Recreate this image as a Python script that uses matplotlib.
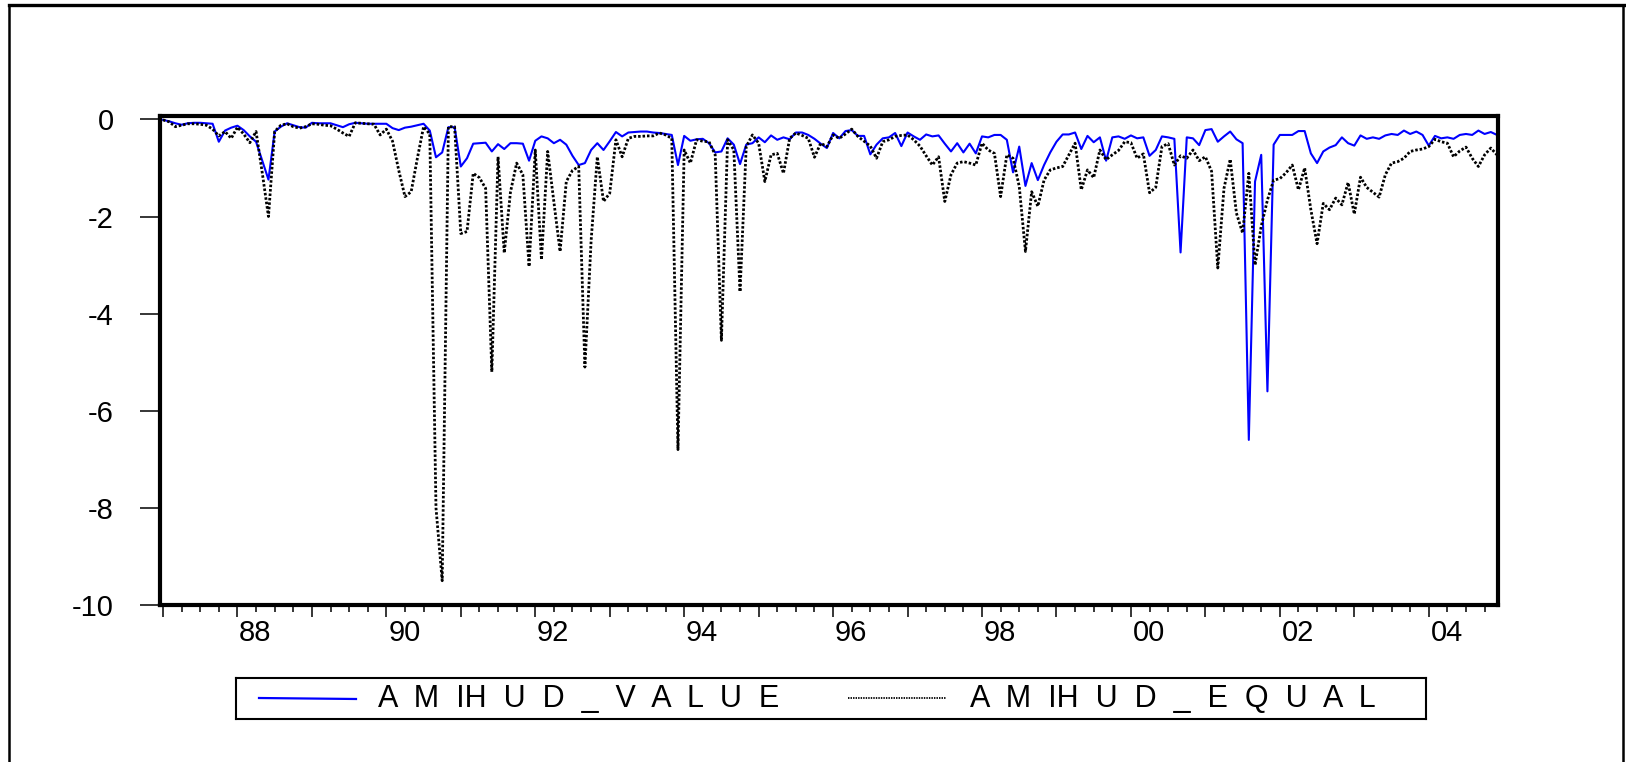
import numpy as np
import pandas as pd
import matplotlib
matplotlib.use("Agg")
import matplotlib.pyplot as plt
import matplotlib.transforms as mtransforms
from matplotlib.lines import Line2D
from matplotlib.ticker import FixedLocator, MultipleLocator

plt.rcParams['font.family'] = ['Liberation Sans', 'DejaVu Sans']

# monthly observations 1987:01 - 2004:12
dates = pd.date_range("1987-01-01", "2004-12-01", freq="MS")
t = dates.year + (dates.month - 1) / 12.0

amihud_value = [
    -0.01, -0.04, -0.08, -0.11, -0.08, -0.07, -0.07, -0.08, -0.09, -0.46, -0.23, -0.17,  # 1987
    -0.13, -0.22, -0.35, -0.46, -0.85, -1.24, -0.25, -0.15, -0.08, -0.12, -0.16, -0.17,  # 1988
    -0.07, -0.08, -0.08, -0.08, -0.12, -0.16, -0.10, -0.07, -0.08, -0.09, -0.09, -0.09,  # 1989
    -0.09, -0.18, -0.22, -0.17, -0.15, -0.12, -0.09, -0.23, -0.78, -0.68, -0.16, -0.16,  # 1990
    -0.97, -0.80, -0.50, -0.49, -0.48, -0.66, -0.51, -0.61, -0.49, -0.49, -0.50, -0.85,  # 1991
    -0.44, -0.35, -0.39, -0.49, -0.42, -0.52, -0.75, -0.94, -0.90, -0.63, -0.49, -0.63,  # 1992
    -0.45, -0.26, -0.35, -0.27, -0.26, -0.25, -0.25, -0.27, -0.28, -0.30, -0.32, -0.94,  # 1993
    -0.34, -0.44, -0.41, -0.40, -0.49, -0.68, -0.66, -0.39, -0.52, -0.92, -0.52, -0.49,  # 1994
    -0.37, -0.47, -0.33, -0.42, -0.37, -0.41, -0.27, -0.27, -0.32, -0.40, -0.50, -0.59,  # 1995
    -0.28, -0.39, -0.24, -0.22, -0.34, -0.34, -0.72, -0.52, -0.39, -0.37, -0.28, -0.55,  # 1996
    -0.27, -0.35, -0.42, -0.31, -0.35, -0.33, -0.50, -0.66, -0.49, -0.68, -0.50, -0.70,  # 1997
    -0.35, -0.37, -0.32, -0.32, -0.42, -1.09, -0.56, -1.37, -0.90, -1.25, -0.94, -0.68,  # 1998
    -0.46, -0.31, -0.31, -0.27, -0.61, -0.34, -0.47, -0.37, -0.85, -0.37, -0.35, -0.40,  # 1999
    -0.33, -0.39, -0.37, -0.75, -0.63, -0.35, -0.37, -0.40, -2.74, -0.37, -0.39, -0.53,  # 2000
    -0.22, -0.20, -0.46, -0.35, -0.25, -0.41, -0.49, -6.60, -1.28, -0.73, -5.60, -0.52,  # 2001
    -0.32, -0.32, -0.32, -0.24, -0.24, -0.70, -0.90, -0.66, -0.58, -0.53, -0.37, -0.49,  # 2002
    -0.54, -0.33, -0.40, -0.37, -0.40, -0.33, -0.30, -0.32, -0.23, -0.30, -0.25, -0.32,  # 2003
    -0.54, -0.34, -0.39, -0.37, -0.40, -0.32, -0.30, -0.32, -0.23, -0.30, -0.26, -0.32,  # 2004
]

amihud_equal = [
    -0.01, -0.05, -0.15, -0.12, -0.09, -0.09, -0.10, -0.12, -0.20, -0.34, -0.25, -0.39,  # 1987
    -0.16, -0.30, -0.48, -0.25, -1.10, -2.00, -0.25, -0.12, -0.09, -0.15, -0.18, -0.15,  # 1988
    -0.09, -0.10, -0.12, -0.13, -0.20, -0.28, -0.35, -0.07, -0.08, -0.09, -0.10, -0.32,  # 1989
    -0.20, -0.45, -1.05, -1.59, -1.49, -0.80, -0.15, -0.30, -8.00, -9.50, -0.15, -0.15,  # 1990
    -2.35, -2.31, -1.11, -1.20, -1.42, -5.20, -0.77, -2.75, -1.50, -0.90, -1.14, -3.03,  # 1991
    -0.63, -2.89, -0.66, -1.70, -2.72, -1.28, -1.05, -0.97, -5.10, -2.50, -0.77, -1.69,  # 1992
    -1.52, -0.42, -0.77, -0.39, -0.35, -0.35, -0.34, -0.34, -0.28, -0.32, -0.39, -6.80,  # 1993
    -0.63, -0.90, -0.42, -0.45, -0.46, -0.73, -4.55, -0.42, -0.63, -3.55, -0.56, -0.32,  # 1994
    -0.49, -1.28, -0.73, -0.70, -1.11, -0.39, -0.28, -0.33, -0.39, -0.78, -0.49, -0.56,  # 1995
    -0.32, -0.39, -0.30, -0.20, -0.35, -0.45, -0.55, -0.80, -0.46, -0.42, -0.35, -0.33,  # 1996
    -0.32, -0.42, -0.55, -0.75, -0.94, -0.77, -1.69, -1.14, -0.90, -0.87, -0.90, -0.94,  # 1997
    -0.49, -0.63, -0.70, -1.59, -0.73, -0.80, -1.38, -2.72, -1.49, -1.79, -1.25, -1.04,  # 1998
    -1.00, -0.97, -0.73, -0.49, -1.45, -1.04, -1.20, -0.63, -0.83, -0.73, -0.64, -0.46,  # 1999
    -0.48, -0.80, -0.71, -1.51, -1.40, -0.56, -0.50, -0.94, -0.75, -0.80, -0.63, -0.85,  # 2000
    -0.77, -1.07, -3.06, -1.42, -0.82, -1.93, -2.34, -1.11, -3.00, -2.20, -1.66, -1.25,  # 2001
    -1.22, -1.10, -0.94, -1.45, -1.00, -1.86, -2.56, -1.73, -1.86, -1.62, -1.76, -1.30,  # 2002
    -1.95, -1.19, -1.40, -1.50, -1.60, -1.14, -0.90, -0.87, -0.80, -0.66, -0.63, -0.61,  # 2003
    -0.56, -0.41, -0.46, -0.49, -0.77, -0.65, -0.57, -0.80, -0.97, -0.73, -0.59, -0.73,  # 2004
]

years = list(range(1987, 2005))
year_labels = ["" if y % 2 else str(y)[2:] for y in years]
y_ticks = [0, -2, -4, -6, -8, -10]
y_labels = ["0", "-2", "-4", "-6", "-8", "-10"]
series_names = ["A  M  IH  U  D  _  V  A  L  U  E", "A  M  IH  U  D  _  E  Q  U  A  L"]

W, H = 1626, 762
fig = plt.figure(figsize=(W / 100, H / 100), dpi=100)
fig.patch.set_facecolor("white")

ax = fig.add_axes([160 / W, 1 - 605 / H, 1338 / W, 489 / H])
ax.plot(t, amihud_value, color="#0000ff", lw=1.5)
ax.plot(t, amihud_equal, color="black", lw=2.0, linestyle=(0, (0.9, 0.7)))

ax.set_xlim(1986.96, 2004.93)
ax.set_ylim(-10, 0.07)
ax.set_yticks(y_ticks)
ax.set_yticklabels(y_labels)
ax.xaxis.set_major_locator(FixedLocator(years))
ax.set_xticklabels(year_labels)
ax.xaxis.set_minor_locator(MultipleLocator(0.25))
ax.tick_params(axis="x", which="major", direction="out", length=8.6, width=1.1,
               pad=1.5, labelsize=21)
ax.tick_params(axis="x", which="minor", direction="out", length=5, width=1.1)
ax.tick_params(axis="y", direction="out", length=14.4, width=1.1, pad=19, labelsize=21)
for s in ax.spines.values():
    s.set_linewidth(3)

# EViews puts the year label a bit right of the year tick
offset = mtransforms.ScaledTranslation(0.18, 0, fig.dpi_scale_trans)
for lab in ax.get_xticklabels():
    lab.set_transform(lab.get_transform() + offset)

# legend box
lax = fig.add_axes([236 / W, 1 - 719 / H, 1190 / W, 41 / H])
lax.set_xlim(0, 1190)
lax.set_ylim(0, 41)
lax.set_xticks([])
lax.set_yticks([])
for s in lax.spines.values():
    s.set_linewidth(1.5)
lax.plot([23, 120], [21, 20], color="#0000ff", lw=1.6)
lax.text(142, 20, series_names[0], fontsize=22, va="center", ha="left")
lax.plot([612, 710], [21, 21], color="black", lw=1.3, linestyle=(0, (0.8, 0.6)))
lax.text(734, 20, series_names[1], fontsize=22, va="center", ha="left")

# outer frame of the pasted graph
fig.add_artist(Line2D([9 / W, 1624 / W], [1 - 5 / H, 1 - 5 / H],
                      transform=fig.transFigure, color="black", lw=2.4))
fig.add_artist(Line2D([9 / W, 9 / W], [0, 1 - 5 / H],
                      transform=fig.transFigure, color="black", lw=1.8))
fig.add_artist(Line2D([1623 / W, 1623 / W], [0, 1 - 5 / H],
                      transform=fig.transFigure, color="black", lw=1.8))

fig.savefig("out.png", dpi=100)
